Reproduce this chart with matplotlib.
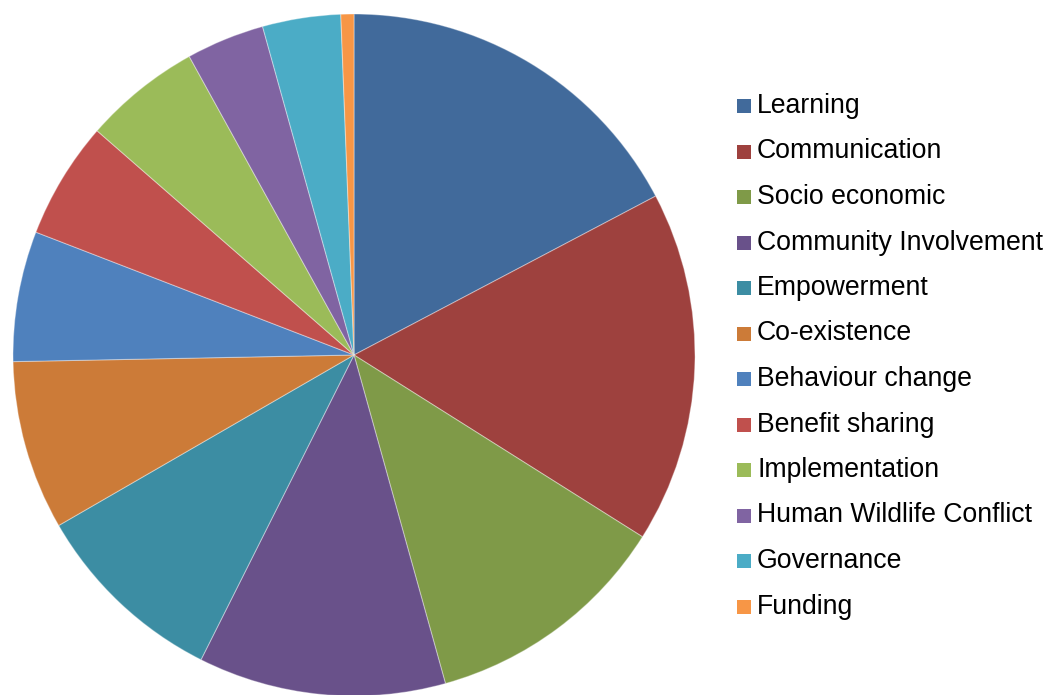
import matplotlib.pyplot as plt
from matplotlib import patches

plt.rcParams['font.family'] = ['Liberation Sans', 'DejaVu Sans']

labels = ["Learning", "Communication", "Socio economic", "Community Involvement",
          "Empowerment", "Co-existence", "Behaviour change", "Benefit sharing",
          "Implementation", "Human Wildlife Conflict", "Governance", "Funding"]
counts = [28, 27, 19, 19, 15, 13, 10, 9, 9, 6, 6, 1]
colors = ["#416A9B", "#9E413E", "#7F9A48", "#69518A", "#3C8DA3", "#CC7B38",
          "#4F81BD", "#C0504D", "#9BBB59", "#8064A2", "#4BACC6", "#F79646"]

W, H = 1046, 695
fig = plt.figure(figsize=(W / 100, H / 100), dpi=100)

# pie centred at (354, 355) px, radius 341 px
cx, cy, r = 354, 355, 341
ax = fig.add_axes([(cx - r) / W, (H - cy - r) / H, 2 * r / W, 2 * r / H])
ax.pie(counts, colors=colors, startangle=90, counterclock=False, radius=1,
       wedgeprops=dict(edgecolor=(1, 1, 1, 0.35), linewidth=0.8))
ax.set_xlim(-1, 1)
ax.set_ylim(-1, 1)
ax.set_aspect('equal')
ax.axis('off')

# legend drawn by hand: square marker + label per row
y0, step = 106, 45.5
sq = 14
for i, (lab, col) in enumerate(zip(labels, colors)):
    y = y0 + i * step
    fig.patches.append(patches.Rectangle(
        (737 / W, (H - y - sq / 2) / H), sq / W, sq / H,
        transform=fig.transFigure, facecolor=col, edgecolor='none'))
    fig.text(757 / W, (H - y - 7) / H, lab, fontsize=19.2, color='black',
             va='baseline', ha='left')

fig.savefig("out.png", dpi=100)
